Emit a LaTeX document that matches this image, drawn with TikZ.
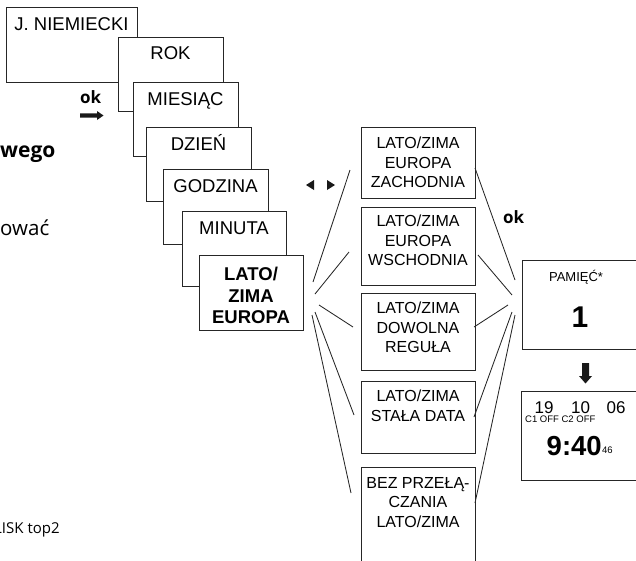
\documentclass[tikz,border=0pt]{standalone}
\usepackage{fontspec}
\setmainfont{Liberation Sans}
\newfontfamily\opensans{Open Sans}
\begin{document}
\begin{tikzpicture}[x=1pt,y=-1pt,
  box/.style={draw=black!85, line width=0.9pt, fill=white, inner sep=0pt, anchor=north west},
  boldbox/.style={box, line width=1.3pt},
  stacktxt/.style={inner sep=0pt, font=\fontsize{18.5}{21.5}\selectfont, anchor=base},
  boldtxt/.style={inner sep=0pt, font=\fontsize{18.5}{21.5}\selectfont\bfseries, align=center, anchor=north},
  opttxt/.style={inner sep=0pt, font=\fontsize{16}{19.5}\selectfont, align=center, anchor=north},
  conn/.style={draw=black!85, line width=0.85pt},
  oklabel/.style={inner sep=0pt, font=\opensans\fontsize{17}{17}\selectfont\bfseries, anchor=base west},
  sidetxt/.style={inner sep=0pt, anchor=base west},
  arrowfill/.style={fill=black!90, draw=none}
]
\useasboundingbox (0,0) rectangle (636,560);

% side text fragments
\node[sidetxt, font=\opensans\fontsize{21}{21}\selectfont\bfseries] (wego) at (0,157) {wego};
\node[sidetxt, font=\opensans\fontsize{20.5}{20.5}\selectfont] (owac) at (0,235) {ować};
\node[sidetxt, font=\opensans\fontsize{15}{15}\selectfont] (lisk) at (-6,533) {LISK top2};

% stacked boxes
\node[box, minimum width=131pt, minimum height=75pt] (jn) at (6,7) {};
\node[stacktxt] (jnt) at (71.5,30) {J. NIEMIECKI};
\node[box, minimum width=105pt, minimum height=74pt] (rok) at (118,37) {};
\node[stacktxt] (rokt) at (170.5,59) {ROK};
\node[box, minimum width=105pt, minimum height=74pt] (mies) at (133,82) {};
\node[stacktxt] (miest) at (185.5,105) {MIESIĄC};
\node[box, minimum width=105pt, minimum height=74pt] (dzien) at (146,127) {};
\node[stacktxt] (dzient) at (198.5,150) {DZIEŃ};
\node[box, minimum width=105pt, minimum height=75pt] (godz) at (163,169) {};
\node[stacktxt] (godzt) at (215.5,192) {GODZINA};
\node[box, minimum width=104pt, minimum height=75pt] (minuta) at (182,211) {};
\node[stacktxt] (minutat) at (234,234) {MINUTA};
\node[boldbox, minimum width=104pt, minimum height=75pt] (europa) at (199,255) {};
\node[boldtxt] (europat) at (251,267) {LATO/\\ZIMA\\EUROPA};

% ok + right arrow
\node[oklabel] (ok1) at (80,103) {ok};
\fill[arrowfill] (80,113.3) -- (97,113.3) -- (97,111) -- (103.5,115.5) -- (97,120) -- (97,117.7) -- (80,117.7) -- cycle;

% left/right triangles
\fill[arrowfill] (306,185) -- (314,180) -- (314,190) -- cycle;
\fill[arrowfill] (335,185) -- (327,180) -- (327,190) -- cycle;

% option boxes
\node[box, minimum width=114pt, minimum height=71pt] (o1) at (361,127) {};
\node[opttxt] (o1t) at (418,137) {LATO/ZIMA\\EUROPA\\ZACHODNIA};
\node[box, minimum width=114pt, minimum height=78pt] (o2) at (361,207) {};
\node[opttxt] (o2t) at (418,215) {LATO/ZIMA\\EUROPA\\WSCHODNIA};
\node[box, minimum width=114pt, minimum height=77pt] (o3) at (361,293) {};
\node[opttxt] (o3t) at (418,302) {LATO/ZIMA\\DOWOLNA\\REGUŁA};
\node[box, minimum width=114pt, minimum height=72pt] (o4) at (361,381) {};
\node[opttxt] (o4t) at (418,390) {LATO/ZIMA\\STAŁA DATA};
\node[box, minimum width=114pt, minimum height=100pt] (o5) at (361,467) {};
\node[opttxt] (o5t) at (418,477) {BEZ PRZEŁĄ-\\CZANIA\\LATO/ZIMA};

% left fan
\coordinate (fa1) at (313,282); \coordinate (fb1) at (350,170);
\coordinate (fa2) at (315,294); \coordinate (fb2) at (349,252);
\coordinate (fa3) at (319,305); \coordinate (fb3) at (353,327);
\coordinate (fa4) at (315,312); \coordinate (fb4) at (354,415);
\coordinate (fa5) at (312,315); \coordinate (fb5) at (351,493);
\foreach \i in {1,...,5} \draw[conn] (fa\i) -- (fb\i);

% right fan
\coordinate (ra1) at (475,168); \coordinate (rb1) at (515,280);
\coordinate (ra2) at (478,255); \coordinate (rb2) at (512,295);
\coordinate (ra3) at (474,327); \coordinate (rb3) at (508,305);
\coordinate (ra4) at (474,417); \coordinate (rb4) at (512,312);
\coordinate (ra5) at (475,503); \coordinate (rb5) at (515,315);
\foreach \i in {1,...,5} \draw[conn] (ra\i) -- (rb\i);

\node[oklabel] (ok2) at (503,223) {ok};

% memory box
\node[box, minimum width=130pt, minimum height=89pt] (pam) at (522,260) {};
\node[inner sep=0pt, anchor=base, font=\fontsize{13}{13}\selectfont] (pamt) at (576,281) {PAMIĘĆ*};
\node[inner sep=0pt, anchor=base, font=\fontsize{30}{30}\selectfont\bfseries] (one) at (580,327) {1};

% down arrow
\fill[arrowfill] (582,363) -- (589,363) -- (589,376) -- (592,376) -- (585.5,383.5) -- (579,376) -- (582,376) -- cycle;

% clock box
\node[box, minimum width=130pt, minimum height=89pt] (clock) at (521,391) {};
\node[inner sep=0pt, anchor=base, font=\fontsize{17}{17}\selectfont] (d19) at (544,413) {19};
\node[inner sep=0pt, anchor=base, font=\fontsize{17}{17}\selectfont] (d10) at (580.5,413) {10};
\node[inner sep=0pt, anchor=base, font=\fontsize{17}{17}\selectfont] (d06) at (616,413) {06};
\node[inner sep=0pt, anchor=base west, font=\fontsize{9.5}{9.5}\selectfont] (coff) at (525,422.5) {C1 OFF C2 OFF};
\node[inner sep=0pt, anchor=base west, font=\fontsize{27.5}{27.5}\selectfont\bfseries] (time) at (546.5,455) {9:40};
\node[inner sep=0pt, anchor=base west, font=\fontsize{9.5}{9.5}\selectfont] (sec) at ([yshift=2pt]time.base east) {46};
\end{tikzpicture}
\end{document}
